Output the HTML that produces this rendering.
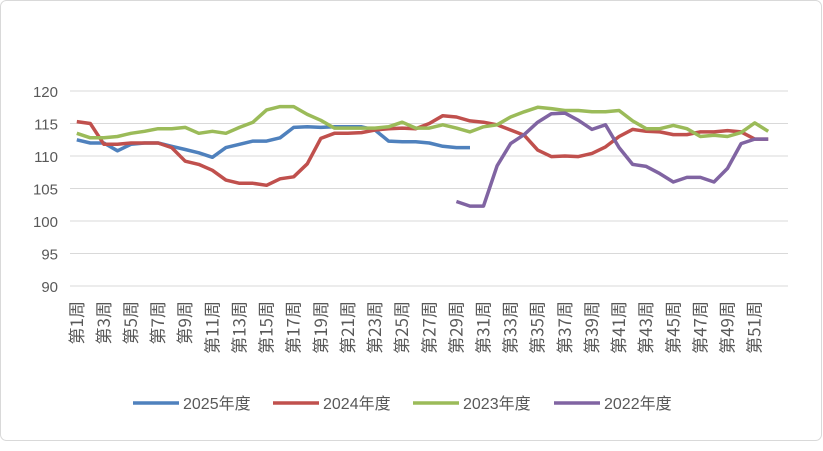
<!DOCTYPE html>
<html><head><meta charset="utf-8"><style>
body{margin:0;background:#fff;}
svg text{font-family:"Liberation Sans","Noto Sans CJK SC",sans-serif;fill:#595959;}
svg text.xl{font-family:"Noto Sans CJK SC","Liberation Sans",sans-serif;}
</style></head><body>
<svg id="chart" width="823" height="446" xmlns="http://www.w3.org/2000/svg">
<rect x="0.5" y="0.5" width="821" height="440" rx="6" fill="#fff" stroke="#d9d9d9"/>
<g id="grid"></g><g id="yt"></g><g id="xt"></g><g id="lines"></g><g id="legend"></g>
</svg>
<script>
const weeks = Array.from({length:52},(_,i)=>'第'+(i+1)+'周');
const yTicks = [90,95,100,105,110,115,120];
const s2025 = [112.5,112,112,110.8,111.8,112,112,111.5,111,110.5,109.8,111.3,111.8,112.3,112.3,112.8,114.4,114.5,114.4,114.5,114.5,114.5,114,112.3,112.2,112.2,112,111.5,111.3,111.3];
const s2024 = [115.3,115,111.8,111.8,112,112,112,111.3,109.2,108.7,107.8,106.3,105.8,105.8,105.5,106.5,106.8,108.8,112.7,113.5,113.5,113.6,114,114.2,114.3,114.2,115,116.2,116,115.4,115.2,114.8,114,113.2,110.9,109.9,110,109.9,110.4,111.4,113,114.1,113.8,113.7,113.3,113.3,113.7,113.7,113.9,113.7,112.6,112.6];
const s2023 = [113.5,112.8,112.8,113,113.5,113.8,114.2,114.2,114.4,113.5,113.8,113.5,114.4,115.2,117.1,117.6,117.6,116.4,115.5,114.3,114.3,114.3,114.3,114.5,115.2,114.3,114.3,114.8,114.3,113.7,114.5,114.8,116,116.8,117.5,117.3,117,117,116.8,116.8,117,115.4,114.2,114.2,114.7,114.2,113,113.2,113,113.6,115.1,113.8];
const s2022 = [null,null,null,null,null,null,null,null,null,null,null,null,null,null,null,null,null,null,null,null,null,null,null,null,null,null,null,null,103,102.3,102.3,108.5,111.9,113.3,115.2,116.5,116.6,115.5,114.1,114.8,111.3,108.7,108.4,107.3,106,106.7,106.7,106,108.1,111.9,112.6,112.6];
const seriesNames = ['2025年度','2024年度','2023年度','2022年度'];
const colors=['#4f81bd','#c0504d','#9bbb59','#8064a2'];
const NS='http://www.w3.org/2000/svg';
const x0=70,x1=775,yTop=91,yBot=286,vmin=90,vmax=120;
const step=(x1-x0)/weeks.length;
const xs=i=>x0+step*(i+0.5);
const ys=v=>yBot-(v-vmin)/(vmax-vmin)*(yBot-yTop);
function mk(tag,attrs,parent){const e=document.createElementNS(NS,tag);for(const k in attrs)e.setAttribute(k,attrs[k]);parent.appendChild(e);return e;}
const grid=document.getElementById('grid'),yt=document.getElementById('yt'),xt=document.getElementById('xt'),lines=document.getElementById('lines'),lg=document.getElementById('legend');
yTicks.forEach(v=>{
 const l=mk('line',{x1:x0,x2:788,y1:ys(v),y2:ys(v),stroke:'#d9d9d9','stroke-width':1},grid);
 
 
 const t=mk('text',{x:58,y:ys(v)+6,'text-anchor':'end','font-size':15},yt);
 t.textContent=v;
 
 
});
weeks.forEach((w,i)=>{
 if(i%2) return;
 const t=mk('text',{class:'xl',transform:`translate(${xs(i)+6},301) rotate(-90)`,'text-anchor':'end','font-size':17},xt);
 t.textContent=w;
 
 
});
[s2025,s2024,s2023,s2022].forEach((s,k)=>{
 let d='',pen=false;
 s.forEach((v,i)=>{if(v==null){pen=false;return;}d+=(pen?'L':'M')+xs(i).toFixed(1)+','+ys(v).toFixed(1);pen=true;});
 const p=mk('path',{d:d,fill:'none',stroke:colors[k],'stroke-width':3.5,'stroke-linejoin':'round'},lines);
 
 
});
const lx=[133,273,413,554];
seriesNames.forEach((n,k)=>{
 const g=mk('g',{},lg);
 
 
 mk('line',{x1:lx[k],x2:lx[k]+46,y1:403,y2:403,stroke:colors[k],'stroke-width':3.5},g);
 const t=mk('text',{x:lx[k]+50,y:409,'font-size':16},g);
 t.textContent=n;
});
</script>
</body></html>
